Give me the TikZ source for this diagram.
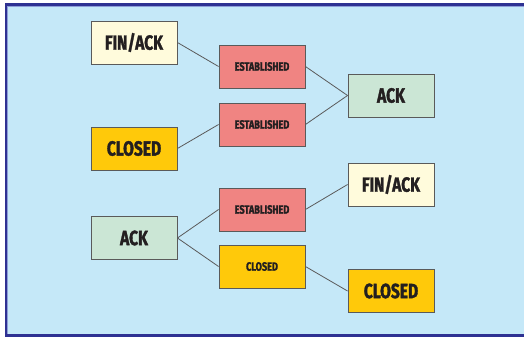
\documentclass[tikz,border=0pt]{standalone}
\usepackage{fontspec}
\setmainfont{Fira Sans}[FakeStretch=0.76, BoldFeatures={FakeBold=1.6}]
\definecolor{panel}{HTML}{C5E8F8}
\definecolor{frame}{HTML}{2E3192}
\definecolor{frameedge}{HTML}{8E9ED8}
\definecolor{finack}{HTML}{FFFBDC}
\definecolor{closed}{HTML}{FFC90A}
\definecolor{estab}{HTML}{F08482}
\definecolor{ack}{HTML}{CBE6D5}
\definecolor{boxline}{HTML}{5A5A5A}
\definecolor{ink}{HTML}{231F20}
\tikzset{
  state/.style={draw=boxline, line width=0.9pt, minimum width=86pt, minimum height=43pt,
    inner sep=0pt, text=ink, font=\bfseries},
  big/.style={state, font=\fontsize{20.5}{22}\selectfont\bfseries},
  small/.style={state, font=\fontsize{12}{14}\selectfont\bfseries},
  link/.style={draw=boxline, line width=0.8pt}
}
\begin{document}
\begin{tikzpicture}[x=1pt, y=-1pt]
  \useasboundingbox (0,0) rectangle (524,337);
  % panel and its frame (open on the right)
  \fill[white] (0,0) rectangle (524,337);
  \fill[panel] (6,4) rectangle (524,336);
  \draw[frameedge, line width=0.8pt] (524,6.2) -- (7.6,6.2) -- (7.6,334.2) -- (524,334.2);
  \draw[frame, line width=2.6pt] (524,4.3) -- (5.8,4.3) -- (5.8,335.7) -- (524,335.7);

  % upper group
  \node[big, fill=finack] (fin1) at (134,42.5) {FIN/ACK};
  \node[big, fill=closed] (cl1) at (134,148.5) {CLOSED};
  \node[small, fill=estab] (est1) at (262,66.5) {ESTABLISHED};
  \node[small, fill=estab] (est2) at (262,124.5) {ESTABLISHED};
  \node[big, fill=ack] (ack1) at (391,95.5) {ACK};

  % lower group
  \node[big, fill=ack] (ack2) at (134,238) {ACK};
  \node[small, fill=estab] (est3) at (262,209.5) {ESTABLISHED};
  \node[small, fill=closed] (cl2) at (262,266.5) {CLOSED};
  \node[big, fill=finack] (fin2) at (391,184.5) {FIN/ACK};
  \node[big, fill=closed] (cl3) at (391,291) {CLOSED};

  \draw[link] (fin1.east) -- (est1.west);
  \draw[link] (cl1.east) -- (est2.west);
  \draw[link] (est1.east) -- (ack1.west);
  \draw[link] (est2.east) -- (ack1.west);
  \draw[link] (ack2.east) -- (est3.west);
  \draw[link] (ack2.east) -- (cl2.west);
  \draw[link] (est3.east) -- (fin2.west);
  \draw[link] (cl2.east) -- (cl3.west);
\end{tikzpicture}
\end{document}
